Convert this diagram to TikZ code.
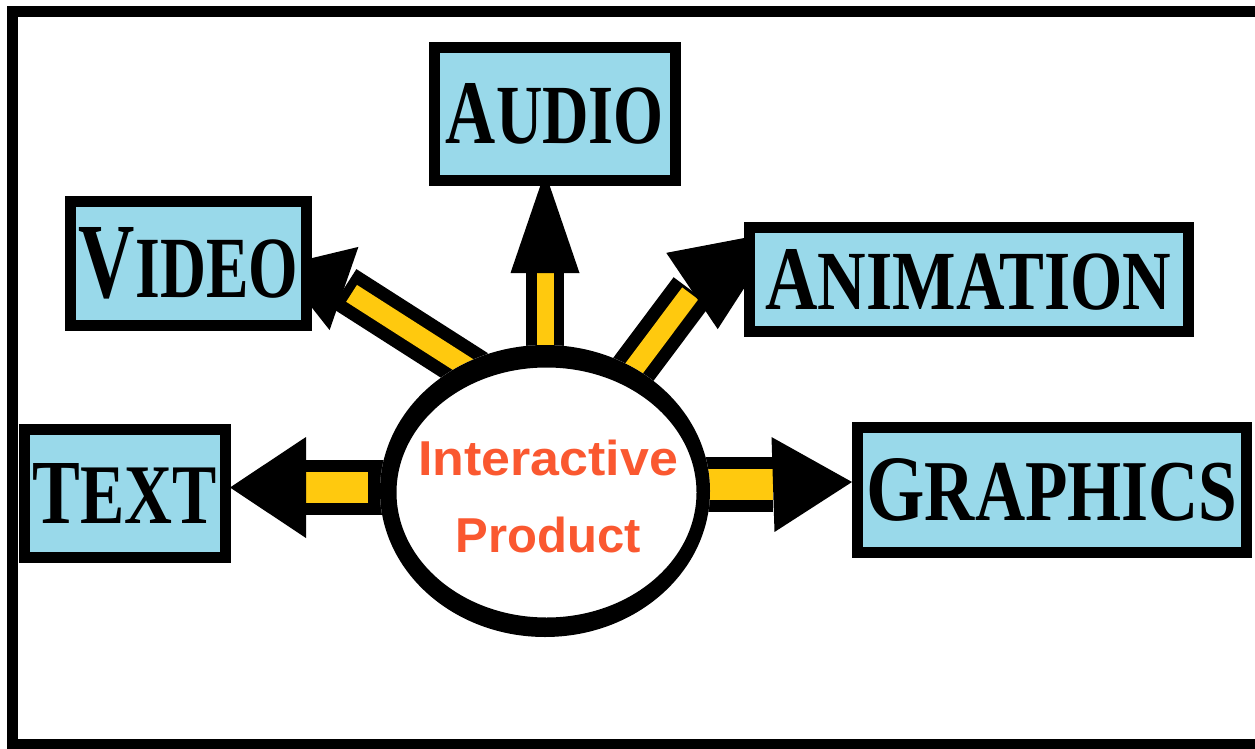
\documentclass[tikz,border=0pt]{standalone}
\usepackage{fontspec}
\setmainfont{Liberation Serif}
\newfontfamily\prodfont{Liberation Sans}
\usetikzlibrary{calc,backgrounds,shapes.geometric}
\definecolor{boxblue}{RGB}{153,217,234}
\definecolor{gold}{RGB}{255,201,14}
\definecolor{prodorange}{RGB}{250,88,48}
\newcommand\capword[5]{\resizebox{#1pt}{#2pt}{\bfseries{\fontsize{#5}{20}\selectfont #3}{\fontsize{20}{20}\selectfont #4}}}
\tikzset{
  frame/.style={draw=black, line width=11pt},
  box/.style={rectangle, draw=black, fill=boxblue, line width=11pt, inner sep=0pt},
  ell/.style={ellipse, fill=white, inner sep=0pt, outer sep=0pt,
    minimum width=330pt, minimum height=292pt},
  ellrim/.style={fill=black, even odd rule},
  prodtext/.style={font=\prodfont\bfseries\fontsize{49}{77}\selectfont,
    text=prodorange, align=center, inner sep=0pt},
  shaftB/.style={draw=black, line width=38pt, shorten <=-15pt},
  shaftY/.style={draw=gold, line width=17pt, shorten <=-15pt},
  shaftBD/.style={draw=black, line width=46pt, shorten <=-15pt},
  shaftYD/.style={draw=gold, line width=20pt, shorten <=-15pt},
  shaftBH/.style={draw=black, line width=55pt},
  shaftYH/.style={draw=gold, line width=31pt},
  head/.style={fill=black},
}
\begin{document}
\begin{tikzpicture}[x=1pt,y=-1pt]
\useasboundingbox (0,0) rectangle (1255,749);
\clip (0,0) rectangle (1255,749);
\draw[frame] (12,12) rectangle (1280,744);

% central ellipse, its thick rim and its text
\node[ell] (ell) at (545,491) {};
\fill[ellrim] (ell.center) ellipse [x radius=165pt, y radius=146pt]
  ([xshift=1.5pt,yshift=-1.5pt]ell.center) ellipse [x radius=150pt, y radius=125pt];
\node[prodtext] (prod) at (548,496.5) {\scalebox{1.06}[1]{Interactive}\\Product};

% boxes
\node[box, minimum width=241pt, minimum height=133pt] (audio) at (555,114)
  {\capword{218}{60}{A}{UDIO}{21.6}};
\node[box, minimum width=236pt, minimum height=124pt] (video) at (188.5,263.5)
  {\capword{219}{70}{V}{IDEO}{24.5}};
\node[box, minimum width=439pt, minimum height=104pt] (anim) at (968.5,279.5)
  {\capword{406}{60}{A}{NIMATION}{21.6}};
\node[box, minimum width=389pt, minimum height=125pt] (graph) at (1052,490)
  {\capword{371}{62}{G}{RAPHICS}{21.6}};
\node[box, minimum width=201pt, minimum height=128pt] (txt) at (125,493.5)
  {\capword{184}{60}{T}{EXT}{21.6}};

\begin{pgfonlayer}{background}
% head bases and tips
\coordinate (aB) at (545,273);   \coordinate (aT) at (545,172);
\coordinate (vB) at (344,288.5); \coordinate (vT) at (279,266);
\coordinate (nB) at (692,291);   \coordinate (nT) at (781,231);
\coordinate (tB) at (306,487.5); \coordinate (tT) at (230,487.5);
\coordinate (gB) at (773,484.5); \coordinate (gT) at (852,482);

% AUDIO
\draw[shaftB] (ell.90) -- (aB);
\draw[shaftY] (ell.90) -- (aB);
\fill[head] ($(aB)!34.5pt!90:(aT)$) -- (aT) -- ($(aB)!34.5pt!-90:(aT)$) -- cycle;
% VIDEO
\draw[shaftBD] (ell.123) -- (vB);
\draw[shaftYD, shorten >=9pt] (ell.123) -- (vB);
\fill[head] ($(vB)!44pt!90:(vT)$) -- (vT) -- ($(vB)!44pt!-90:(vT)$) -- cycle;
% ANIMATION
\draw[shaftBD] (ell.54) -- (nB);
\draw[shaftYD, shorten >=3pt] (ell.54) -- (nB);
\fill[head] ($(nB)!46pt!90:(nT)$) -- (nT) -- ($(nB)!46pt!-90:(nT)$) -- cycle;
% TEXT
\draw[shaftBH] (ell.center |- tB) -- (tB);
\draw[shaftYH, shorten <=177pt] (ell.center |- tB) -- (tB);
\fill[head] ($(tB)!50.5pt!90:(tT)$) -- (tT) -- ($(tB)!50.5pt!-90:(tT)$) -- cycle;
% GRAPHICS
\draw[shaftBH] (ell.center |- gB) -- (gB);
\draw[shaftYH] (ell.center |- gB) -- (gB);
\fill[head] ($(gB)!47.5pt!90:(gT)$) -- (gT) -- ($(gB)!47.5pt!-90:(gT)$) -- cycle;
\end{pgfonlayer}
\end{tikzpicture}
\end{document}
